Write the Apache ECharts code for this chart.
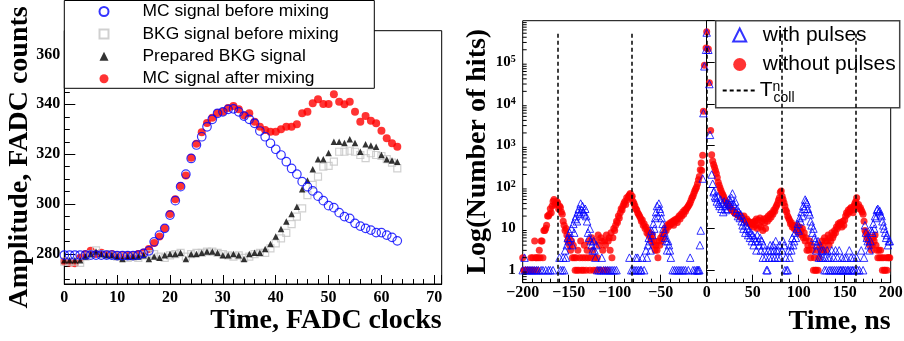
<!DOCTYPE html>
<html><head><meta charset="utf-8">
<script src="https://cdn.jsdelivr.net/npm/echarts@6/dist/echarts.min.js"></script>
<style>html,body{margin:0;padding:0;background:#fff}#c{width:904px;height:341px}</style>
</head><body><div id="c"></div>
<script>
// ---------- Left panel data ----------
const clocks = [0,1,2,3,4,5,6,7,8,9,10,11,12,13,14,15,16,17,18,19,20,21,22,23,24,25,26,27,28,29,30,31,32,33,34,35,36,37,38,39,40,41,42,43,44,45,46,47,48,49,50,51,52,53,54,55,56,57,58,59,60,61,62,63];
const mcBefore = [279.6,279.6,279.6,279.6,279.6,279.6,279.6,279.6,279.6,279.6,279.4,279.4,279.4,279.4,279.6,
  280.3,281.3,284.9,287.6,290.3,295.6,301.4,307,312,318.3,323.7,327,331,334,336.4,337,338,338.2,337,335.3,334,332.4,329.3,327,324.4,322,319.7,317,314.3,312,309,307,305.3,303.2,301.4,299.4,298.6,296.6,295,294.3,292.3,291.2,290.3,289.6,288.6,288.6,287.6,286.7,285.3];
const bkgBefore = [277,277,277,276.5,279,280,281.5,280,280,279.5,279,279,278.5,279,278.5,279.5,280,280,279,278.5,279.5,280,280.5,279,280,280.5,280.5,281,281,280.5,280,279.5,279,279.5,278.5,279,280,280.5,
  280.5,282.3,284.3,286.3,288.5,292,295,298.3,303.6,307.7,311,315,315.3,317,321,321,321.4,321,319.7,318.4,320.4,319.7,319.3,318,316.6,314.3];
const bkgPrepared = [277.5,277.5,277.5,277.5,279,280,281,280,279.5,279.5,279,278,279,279,279,279.5,278,279,278.5,279.5,280,280,280.5,278,280,280,280.5,281,281,280.5,279.5,279.5,280,279.5,278,280,280.5,280.5,
  282,284,287,290,293,296,299,306,309.5,314,318,318,320.5,325,325,324.5,326,324.5,321,324,323.5,323,319.7,318,317.5,317];
const mcAfter = [277,276.5,276.3,278.5,280,281.3,280,280.5,280,280,279.5,279.5,279.5,279.5,280,280.6,282,284.4,287,290.3,296,302,307.3,311.5,318.6,324.2,328.8,332.5,334.6,336.5,337,338.5,339.3,338,335.6,336.4,333,331,329.7,329,329,330,331,331,332,336.4,337,340.4,342,340.1,340.1,344,341,340,341,337,333,335.3,333.4,332.4,329.4,326.4,324.4,323];
const leftNames = ['MC signal before mixing','BKG signal before mixing','Prepared BKG signal','MC signal after mixing'];

// ---------- Right panel data: [time ns, number of hits] ----------
const withoutPulses = [
[-200,2],[-199,1],[-198,1],[-196,1],[-195,1],[-194,1],[-192,1],[-191,2],[-190,1],[-189,2],[-188,1],[-187,5],[-186,2],[-185,2],[-184,1],[-183,2],[-182,3],[-181,2],[-180,5],[-179,5],[-178,2],[-177,9],[-176,9],
[-175,10],[-174,12],[-173,20],[-172,20],[-171,22],[-170,30],[-169,24],[-168,35],[-167,45],[-166,50],[-165,38],[-164,40],[-163,45],[-162,42],[-161,30],[-160,35],[-159,32],[-158,25],[-157,22],[-156,15],[-155,12],[-154,9],[-153,10],[-152,7],[-151,5],[-150,6],[-149,4],[-148,3],[-147,5],[-146,2],[-145,4],
[-144,2],[-143,1],[-142,2],[-141,1],[-140,3],[-139,1],[-138,2],[-137,5],[-136,1],[-135,2],[-134,1],[-133,4],[-132,2],[-131,1],[-130,3],[-129,2],[-128,5],[-127,1],[-126,2],[-125,6],[-124,3],[-123,1],[-122,2],[-121,5],[-120,1],[-119,2],[-118,7],[-117,4],[-116,1],[-115,6],[-114,5],[-113,3],[-112,1],[-111,5],[-110,4],[-109,7],[-108,1],[-107,5],[-106,6],[-105,3],[-104,8],[-103,2],[-102,6],[-101,10],
[-100,9],[-99,12],[-98,15],[-97,14],[-96,20],[-95,18],[-94,24],[-93,30],[-92,28],[-91,35],[-90,40],[-89,45],[-88,38],[-87,55],[-86,50],[-85,60],[-84,65],[-83,70],[-82,55],[-81,60],[-80,45],[-79,40],[-78,35],[-77,30],[-76,28],[-75,24],[-74,22],[-73,20],[-72,18],[-71,15],[-70,16],[-69,12],[-68,13],[-67,10],[-66,11],[-65,8],[-64,9],[-63,7],[-62,8],[-61,6],[-60,5],[-59,7],[-58,4],[-57,5],[-56,3],[-55,4],
[-54,3],[-53,2],[-52,5],[-51,4],[-50,6],[-49,5],[-48,7],[-47,6],[-46,8],[-45,10],[-44,9],
[-43,12],[-42,11],[-41,13],[-40,12],[-39,14],[-38,13],[-37,15],[-36,12],[-35,16],[-34,15],[-33,17],[-32,14],[-31,18],[-30,20],[-29,17],[-28,22],[-27,20],[-26,25],[-25,22],[-24,28],[-23,26],[-22,30],[-21,32],[-20,35],[-19,38],[-18,42],[-17,48],[-16,55],[-15,60],[-14,70],[-13,80],[-12,90],[-11,100],[-10,120],[-9,150],[-8,180],[-7,260],[-6,380],[-5.4,250],
[-4.4,580],[-3.6,6600],[-2.5,85000],[-0.7,220000],[0,540000],[1.8,210000],[2.9,32000],[4.3,2300],[5.4,600],
[6.5,420],[7.5,350],[8.5,300],[9.5,250],[10.5,210],[11.5,170],[12.5,130],[13.5,110],[14.5,95],[15.5,82],[16.5,72],
[17.5,65],[18.5,58],[19.5,50],[20.5,46],[21.5,42],[22.5,40],[23.5,36],[24.5,34],[25.5,32],[26.5,30],[27.5,28],[28.5,27],[29.5,25],[30.5,24],[31.5,23],[32.5,22],[33.5,22],[34.5,21],[35.5,20],[36.5,19],[37.5,20],[38.5,18],[39.5,17],[40.5,20],[41.5,16],[42.5,15],[43.5,17],[44.5,14],[45.5,15],[46.5,13],[47.5,14],[48.5,12],[49.5,13],[50.5,14],
[51,11],[52,15],[53,12],[54,17],[55,10],[56,16],[57,12],[58,18],[59,11],[60,15],[61,9],[62,17],[63,14],[64,10],[65,18],[66,15],[67,20],[68,17],[69,22],[70,19],
[71,24],[72,22],[73,28],[74,26],[75,32],[76,36],[77,40],[78,48],[79,55],[80,75],[81,80],[82,60],[83,50],[84,42],[85,35],[86,28],[87,25],[88,20],[89,18],[90,16],[91,13],[92,14],
[93,11],[94,12],[95,10],[96,11],[97,9],[98,12],[99,10],[100,8],[101,11],[102,9],[103,7],[104,10],[105,6],[106,8],[107,5],[108,6],[109,3],[110,4],[111,3],[112,5],[113,2],[114,4],[115,3],[116,1],[117,2],[118,1],[119,1],[120,3],[121,1],[122,2],[123,4],[124,3],[125,5],
[126,4],[127,3],[128,6],[129,5],[130,3],[131,5],[132,7],[133,4],[134,6],[135,5],[136,8],[137,6],[138,7],[139,9],[140,8],[141,11],[142,10],[143,13],[144,12],[145,14],[146,13],[147,11],[148,15],[149,12],[150,16],[151,20],[152,24],[153,22],[154,28],[155,25],[156,30],[157,32],[158,28],[159,24],[160,35],[161,40],[162,45],[163,55],
[164,35],[165,38],[166,30],[167,32],[168,28],[169,25],[170,22],[171,15],[172,9],[173,8],[174,6],[175,7],[176,5],[177,4],[178,5],[179,3],[180,4],[181,6],[182,5],[183,7],[184,4],[185,3],[186,2],[187,3],[188,2],[189,3],[190,2],[191,1],[192,2],[193,1],[194,1],[195,2],[196,1],[197,2],[198,2],[199,2]
];
const withPulses = [
[-200,1],[-198,2],[-197,1],[-195,1],[-193,1],[-191,1],[-189,1],[-187,1],[-185,1],[-183,1],[-180,1],[-178,1],[-175,1],[-172,1],[-170,1],[-167,1],[-160,2],[-159,1],[-157,1],[-156,2],[-155,1],[-154,3],[-153,2],
[-152,4],[-151,6],[-150,5],[-149,8],[-148,6],[-147,10],[-146,4],[-145,13],[-144,8],[-143,17],[-142,20],[-141,15],[-140,25],[-139,30],[-138,23],[-137,40],[-136,28],[-135,35],[-134,25],[-133,22],[-132,30],[-131,20],[-130,15],[-129,8],[-128,6],[-127,10],[-126,5],[-125,4],[-124,3],[-123,5],[-122,3],[-121,2],[-120,4],
[-119,1],[-117,1],[-115,1],[-114,2],[-112,1],[-110,1],[-108,1],[-106,1],[-104,1],[-102,1],[-100,1],[-98,1],[-84,2],[-82,1],[-80,1],[-78,1],[-77,2],[-76,1],[-75,2],[-74,1],[-72,1],[-71,1],[-70,2],[-68,1],[-66,3],[-65,2],
[-64,4],[-63,6],[-62,5],[-61,3],[-60,9],[-59,7],[-58,13],[-57,10],[-56,18],[-55,25],[-54,35],[-53,20],[-52,40],[-51,30],[-50,25],[-49,18],[-48,13],[-47,10],[-46,8],[-45,6],[-44,5],[-43,3],[-42,5],[-41,4],[-40,3],
[-39,2],[-37,1],[-35,1],[-33,1],[-31,1],[-29,1],[-27,1],[-25,1],[-23,1],[-20,1],[-18,2],[-15,1],[-13,1],[-11,1],[-10,1],[-9,1],[-8,1],[-7.4,4],[-6.5,9],
[-4.4,160],[-3.6,6000],[-2.5,80000],[-0.7,200000],[0,520000],[1.8,200000],[2.9,30000],[3.6,1800],[5.4,200],[6.5,120],[7.5,75],
[8,80],[9,60],[10,55],[11,45],[12,60],[13,40],[14,35],[15,50],[16,30],[17,40],[18,25],[19,45],[20,35],[21,28],[22,40],[23,30],[24,50],[25,38],[26,45],[27,55],[28,70],[29,40],[30,35],[31,45],[32,25],[33,30],[34,20],[35,25],[36,18],[37,22],[38,15],[39,12],[40,10],[41,15],[42,8],[43,12],[44,10],[45,7],[46,9],[47,6],[48,8],[49,5],[50,7],
[51,4],[52,6],[53,5],[54,3],[55,7],[56,5],[57,4],[58,6],[59,3],[60,5],[61,2],[62,4],[63,3],[64,2],[65,1],[66,1],[67,3],[68,2],[69,4],[70,3],[71,2],[72,4],[73,3],[74,2],[75,5],[76,3],[77,2],[78,3],[79,4],[80,2],[82,3],[83,5],[84,4],[85,1],[86,2],[87,1],[88,1],[89,3],[90,2],[91,4],[92,3],[93,6],[94,4],[95,5],
[96,8],[97,6],[98,10],[99,13],[100,9],[101,18],[102,15],[103,25],[104,20],[105,35],[106,30],[107,50],[108,45],[109,40],[110,30],[111,25],[112,22],[113,15],[114,12],[115,8],[116,10],[117,6],[118,5],[119,3],[120,4],
[121,5],[122,2],[124,2],[125,3],[126,2],[127,3],[128,1],[129,2],[130,1],[131,3],[132,2],[133,1],[134,2],[135,1],[136,3],[137,1],[138,2],[139,1],[140,3],[141,1],[142,2],[143,1],[144,3],[145,1],[146,1],[147,2],[148,1],[149,1],[150,2],[151,1],[152,2],[153,1],[154,1],[155,3],[156,1],[157,2],[158,1],[159,1],[160,2],[161,1],[163,2],[164,1],[166,1],[168,3],[170,1],
[171,2],[172,12],[173,8],[174,6],[175,5],[176,4],[177,3],[178,5],[179,9],[180,8],[181,13],[182,10],[183,20],[184,18],[185,28],[186,30],[187,25],[188,27],[189,22],[190,20],[191,15],[192,12],[193,10],[194,8],[195,6],[196,7],[197,4],[198,5],[199,5]
];
const tcollTimes = [-162.4, -81.2, 0, 81.2, 162.4];
const tcollTop = 500000;
const logMinorTicks = [0.6,0.7,0.8,0.9,2,3,4,5,6,7,8,9,20,30,40,50,60,70,80,90,200,300,400,500,600,700,800,900,2000,3000,4000,5000,6000,7000,8000,9000,20000,30000,40000,50000,60000,70000,80000,90000,200000,300000,400000,500000,600000,700000,800000,900000];
const rightNames = ['with pulses','without pulses'];

// ---------- chart ----------
const SERIF = 'Liberation Serif';
const SANS = 'Liberation Sans';
const chart = echarts.init(document.getElementById('c'), null, {renderer: 'canvas'});
const zip = (xs, ys) => xs.map((x, i) => [x, ys[i]]);
const tickStyle = {color: '#000', width: 1};
const supDigits = {s: {fontSize: 10, fontFamily: SERIF, fontWeight: 'bold', verticalAlign: 'top', color: '#000'}};
const dashIcon = 'path://M0,0h4v2h-4zM7,0h4v2h-4zM14,0h4v2h-4zM21,0h4v2h-4zM28,0h4v2h-4z';

const option = {
  animation: false,
  backgroundColor: '#fff',
  grid: [
    {left: 64.3, top: 30.7, width: 377.4, height: 253.3, show: true, borderColor: '#000', borderWidth: 1, backgroundColor: 'transparent', containLabel: false, outerBoundsMode: 'none'},
    {left: 522.7, top: 20.7, width: 368, height: 262, show: true, borderColor: '#000', borderWidth: 1, backgroundColor: 'transparent', containLabel: false, outerBoundsMode: 'none'}
  ],
  xAxis: [
    {gridIndex: 0, type: 'value', min: 0, max: 71.4, interval: 10, position: 'bottom',
     axisLine: {show: true, lineStyle: {color: '#000', width: 1}},
     axisTick: {inside: true, length: 9, lineStyle: tickStyle},
     axisLabel: {margin: 6, fontFamily: SERIF, fontWeight: 'bold', fontSize: 16, color: '#000',
       formatter: v => (Math.abs(v % 10) < 1e-6 ? String(v) : '')},
     splitLine: {show: false},
     name: 'Time, FADC clocks', nameLocation: 'end', nameGap: 0, nameMoveOverlap: false,
     nameTextStyle: {fontFamily: SERIF, fontWeight: 'bold', fontSize: 28, color: '#000', align: 'right', verticalAlign: 'top', padding: [23, 0, 0, 0]}},
    {gridIndex: 0, type: 'value', min: 0, max: 71.4, interval: 2, position: 'bottom',
     axisLine: {show: false}, axisTick: {inside: true, length: 5, lineStyle: tickStyle},
     axisLabel: {show: false}, splitLine: {show: false}},
    {gridIndex: 1, type: 'value', min: -200, max: 200, interval: 50, position: 'bottom',
     axisLine: {show: true, lineStyle: {color: '#000', width: 1}},
     axisTick: {inside: true, length: 8, lineStyle: tickStyle},
     axisLabel: {margin: 2, fontFamily: SERIF, fontWeight: 'bold', fontSize: 16, color: '#000',
       formatter: v => (v < 0 ? '\u2212' + (-v) : String(v))},
     splitLine: {show: false},
     name: 'Time, ns', nameLocation: 'end', nameGap: 0, nameMoveOverlap: false,
     nameTextStyle: {fontFamily: SERIF, fontWeight: 'bold', fontSize: 28, color: '#000', align: 'right', verticalAlign: 'top', padding: [25, 0, 0, 0]}},
    {gridIndex: 1, type: 'value', min: -200, max: 200, interval: 10, position: 'bottom',
     axisLine: {show: false}, axisTick: {inside: true, length: 4, lineStyle: tickStyle},
     axisLabel: {show: false}, splitLine: {show: false}}
  ],
  yAxis: [
    {gridIndex: 0, type: 'value', min: 268, max: 369.5, splitNumber: 5, position: 'left',
     axisLine: {show: true, lineStyle: {color: '#000', width: 1}},
     axisTick: {inside: true, length: 11, lineStyle: tickStyle},
     axisLabel: {margin: 4, fontFamily: SERIF, fontWeight: 'bold', fontSize: 16, color: '#000',
       formatter: v => (Math.abs(v % 20) < 1e-6 ? String(v) : '')},
     splitLine: {show: false},
     name: 'Amplitude, FADC counts', nameLocation: 'middle', nameGap: 31, nameMoveOverlap: false,
     nameTextStyle: {fontFamily: SERIF, fontWeight: 'bold', fontSize: 28, color: '#000'}},
    {gridIndex: 0, type: 'value', min: 268, max: 369.5, splitNumber: 20, position: 'left',
     axisLine: {show: false}, axisTick: {inside: true, length: 5.5, lineStyle: tickStyle},
     axisLabel: {show: false}, splitLine: {show: false}},
    {gridIndex: 1, type: 'log', logBase: 10, min: 0.5, max: 1000000, position: 'left',
     axisLine: {show: true, lineStyle: {color: '#000', width: 1}},
     axisTick: {inside: true, length: 8, lineStyle: tickStyle},
     axisLabel: {margin: 7, fontFamily: SERIF, fontWeight: 'bold', fontSize: 15, color: '#000', rich: supDigits,
       formatter: v => {
         const l = Math.log10(v); const e = Math.round(l);
         if (Math.abs(l - e) > 0.01 || e < 0 || e > 5) return '';
         if (e === 0) return '1';
         if (e === 1) return '10';
         return '10{s|' + e + '}';
       }},
     splitLine: {show: false},
     name: 'Log(Number of hits)', nameLocation: 'middle', nameGap: 31, nameMoveOverlap: false,
     nameTextStyle: {fontFamily: SERIF, fontWeight: 'bold', fontSize: 28, color: '#000'}}
  ],
  legend: [
    {data: leftNames, orient: 'vertical', left: 98.5, top: 3, padding: 0, itemWidth: 9, itemHeight: 9, itemGap: 5.4,
     selectedMode: false, z: 6,
     textStyle: {fontFamily: SANS, fontSize: 17.4, color: '#000', rich: {sp: {width: 29}}},
     formatter: n => '{sp|\u00a0}' + n},
    {data: rightNames, orient: 'vertical', left: 732.2, top: 24.5, padding: 0, itemWidth: 13, itemHeight: 13, itemGap: 8.5,
     selectedMode: false, z: 6,
     textStyle: {fontFamily: SANS, fontSize: 21, color: '#000', rich: {sp: {width: 11.5}}},
     formatter: n => '{sp|\u00a0}' + n},
    {data: [{name: 'Tcoll', icon: dashIcon}], orient: 'vertical', left: 722.7, top: 80, padding: 0, itemWidth: 32, itemHeight: 2,
     selectedMode: false, z: 6,
     textStyle: {fontFamily: SANS, fontSize: 21, color: '#000',
       rich: {
         t: {fontFamily: SANS, fontSize: 21, lineHeight: 21, verticalAlign: 'middle', color: '#000'},
         n: {fontFamily: SANS, fontSize: 14, lineHeight: 14, verticalAlign: 'top', width: 1, color: '#000'},
         c: {fontFamily: SANS, fontSize: 14, lineHeight: 14, verticalAlign: 'bottom', color: '#000', padding: [0, 0, -4, 0]}
       }},
     formatter: () => '{t|T}{n|n}{c|coll}'}
  ],
  graphic: [
    {type: 'rect', z: 5, shape: {x: 64.3, y: 0.5, width: 310, height: 87.8}, style: {fill: '#fff', stroke: '#000', lineWidth: 1}},
    {type: 'rect', z: 5, shape: {x: 715.7, y: 20.7, width: 184, height: 87}, style: {fill: '#fff', stroke: '#444', lineWidth: 1.5}}
  ],
  series: [
    {name: 'MC signal after mixing', type: 'scatter', xAxisIndex: 0, yAxisIndex: 0, z: 2,
     data: zip(clocks, mcAfter), symbol: 'circle', symbolSize: 8, itemStyle: {color: '#ff0000'}},
    {name: 'BKG signal before mixing', type: 'scatter', xAxisIndex: 0, yAxisIndex: 0, z: 3,
     data: zip(clocks, bkgBefore), symbol: 'rect', symbolSize: 7, itemStyle: {color: 'rgba(0,0,0,0)', borderColor: '#c4c4c4', borderWidth: 1.2}},
    {name: 'Prepared BKG signal', type: 'scatter', xAxisIndex: 0, yAxisIndex: 0, z: 3,
     data: zip(clocks, bkgPrepared), symbol: 'triangle', symbolSize: 6.5, itemStyle: {color: '#000'}},
    {name: 'MC signal before mixing', type: 'scatter', xAxisIndex: 0, yAxisIndex: 0, z: 4,
     data: zip(clocks, mcBefore), symbol: 'circle', symbolSize: 8.5, itemStyle: {color: 'rgba(0,0,0,0)', borderColor: '#0000ff', borderWidth: 1.2}},
    {name: 'Tcoll', type: 'line', xAxisIndex: 2, yAxisIndex: 2, z: 1, data: [], symbol: 'none',
     lineStyle: {color: '#000', width: 1.5, type: [4, 3]}, itemStyle: {color: '#000'},
     markLine: {silent: true, symbol: ['none', 'none'], label: {show: false},
       lineStyle: {color: '#000', width: 1.5, type: [4, 3]},
       data: tcollTimes.map(t => [{coord: [t, 0.5]}, {coord: [t, tcollTop]}])}},
    {name: 'without pulses', type: 'scatter', xAxisIndex: 2, yAxisIndex: 2, z: 2,
     data: withoutPulses, symbol: 'circle', symbolSize: 7, itemStyle: {color: '#ff0000'}},
    {name: 'with pulses', type: 'scatter', xAxisIndex: 2, yAxisIndex: 2, z: 3,
     data: withPulses, symbol: 'triangle', symbolSize: 7.5, itemStyle: {color: 'rgba(0,0,0,0)', borderColor: '#0000ff', borderWidth: 1}},
    {name: 'logMinor', type: 'custom', xAxisIndex: 2, yAxisIndex: 2, z: 4, silent: true, clip: false,
     data: logMinorTicks.map(v => [-200, v]),
     renderItem: (params, api) => {
       const p = api.coord([api.value(0), api.value(1)]);
       return {type: 'line', shape: {x1: p[0], y1: p[1], x2: p[0] + 4, y2: p[1]}, style: {stroke: '#000', lineWidth: 1}};
     }}
  ]
};
chart.setOption(option);
</script>
</body></html>
